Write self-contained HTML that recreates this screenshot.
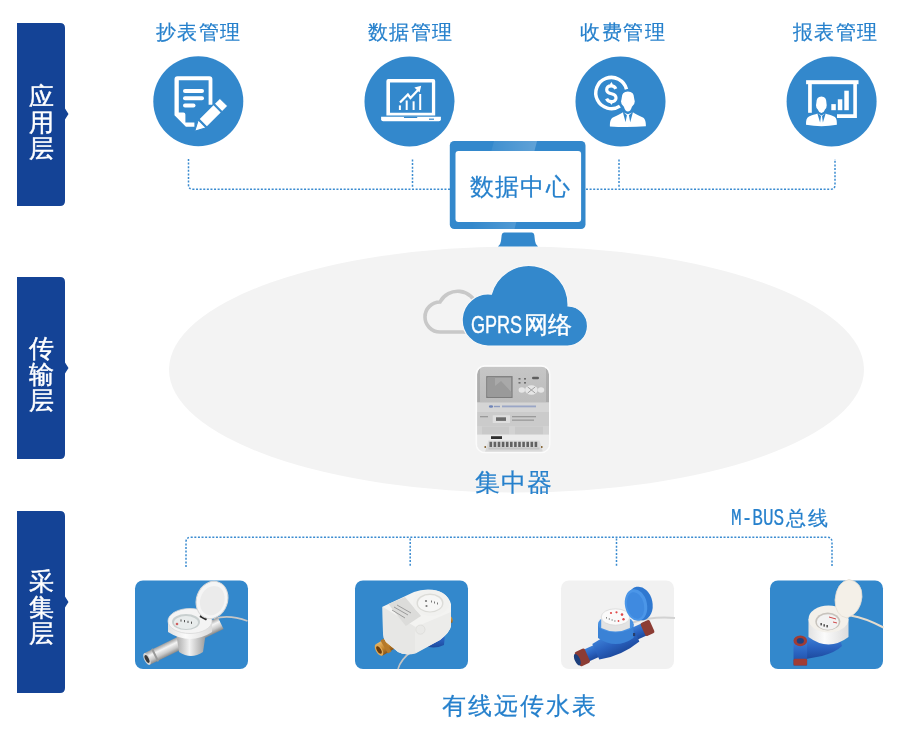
<!DOCTYPE html>
<html><head><meta charset="utf-8">
<style>
html,body{margin:0;padding:0;background:#fff;}
body{width:900px;height:738px;position:relative;overflow:hidden;font-family:"Liberation Sans",sans-serif;}
svg{position:absolute;left:0;top:0;}
.t,.lay{will-change:transform;}
.t{position:absolute;white-space:nowrap;color:#2680cc;line-height:1;-webkit-text-stroke:0.2px #2680cc;}
.lay{position:absolute;left:17px;width:48px;color:#fff;font-size:25px;line-height:26px;text-align:center;-webkit-text-stroke:0.45px #fff;}
</style></head>
<body>
<svg width="900" height="738" viewBox="0 0 900 738">
  <defs>
    <linearGradient id="gloss" x1="0" y1="0" x2="1" y2="0">
      <stop offset="0" stop-color="#ffffff" stop-opacity="0"/>
      <stop offset="0.3" stop-color="#ffffff" stop-opacity="0.05"/>
      <stop offset="0.99" stop-color="#ffffff" stop-opacity="0.22"/>
      <stop offset="1" stop-color="#ffffff" stop-opacity="0"/>
    </linearGradient>
    <linearGradient id="gloss2" x1="0" y1="0" x2="1" y2="0"><stop offset="0" stop-color="#fff" stop-opacity="0"/><stop offset="1" stop-color="#fff" stop-opacity="0.22"/></linearGradient>
  </defs>
  <!-- layer bars -->
  <g fill="#144396">
    <path d="M17 23 H60 Q65 23 65 28 V108.5 L68.5 114 L65 119.5 V201 Q65 206 60 206 H17 Z"/>
    <path d="M17 277 H60 Q65 277 65 282 V362.5 L68.5 368 L65 373.5 V454 Q65 459 60 459 H17 Z"/>
    <path d="M17 511 H60 Q65 511 65 516 V596.5 L68.5 602 L65 607.5 V688 Q65 693 60 693 H17 Z"/>
  </g>

  <!-- ellipse -->
  <ellipse cx="516.5" cy="369.5" rx="347.5" ry="123" fill="#f3f3f3"/>


  <!-- gray cloud -->
  <path d="M480 332 H440 A15 15 0 0 1 440 302 A20 20 0 0 1 477 306" fill="none" stroke="#c8c8c8" stroke-width="3.6"/>
  <!-- blue cloud -->
  <g fill="#3388cc" stroke="#f7f7f7" stroke-width="1.2">
    <path d="M488 346 A26 26 0 1 1 491.4 294.2 A39 39 0 0 1 568 306 A20 20 0 0 1 567 346 Z"/>
  </g>

  <!-- concentrator -->
  <defs>
    <linearGradient id="cg1" x1="0" y1="0" x2="0" y2="1">
      <stop offset="0" stop-color="#c6c6c6"/><stop offset="1" stop-color="#bcbcbc"/>
    </linearGradient>
    <clipPath id="cclip"><rect x="476.8" y="366.4" width="72.5" height="85.6" rx="8"/></clipPath>
  </defs>
  <g clip-path="url(#cclip)">
    <rect x="476.8" y="366.4" width="72.5" height="85.6" fill="#c4c4c4"/>
    <rect x="476.8" y="366.4" width="72.5" height="36.5" fill="url(#cg1)"/>
    <rect x="477" y="367" width="3" height="35" fill="#9a9a9a" opacity="0.5"/>
    <rect x="546" y="367" width="3" height="35" fill="#9a9a9a" opacity="0.5"/>
    <rect x="486.2" y="376.1" width="26.4" height="21.9" fill="#7c7c7c"/>
    <rect x="487.5" y="377.4" width="23.8" height="19.3" fill="#a9a9a9"/>
    <path d="M487.5 377.4 H495 V386 L501 381 L511.3 392 V396.7 H487.5 Z" fill="#9a9a9a"/>
    <rect x="532" y="376.7" width="7" height="2.6" rx="1.3" fill="#5e5e5e"/>
    <g fill="#6e6e6e"><rect x="518.5" y="378" width="2" height="1.6"/><rect x="524" y="378" width="2" height="1.6"/><rect x="518.5" y="382" width="2" height="1.6"/><rect x="524" y="382" width="2" height="1.6"/></g>
    <g fill="#e6e6e6">
      <ellipse cx="521.8" cy="390" rx="3.2" ry="2.7"/>
      <ellipse cx="541" cy="390" rx="3.2" ry="2.7"/>
      <ellipse cx="531.4" cy="390" rx="6.3" ry="4.8"/>
    </g>
    <path d="M527.5 386.8 L535.3 393.2 M535.3 386.8 L527.5 393.2" stroke="#9a9a9a" stroke-width="0.9"/>
    <rect x="476.8" y="402.5" width="72.5" height="9.5" fill="#d5d5d5"/>
    <ellipse cx="491" cy="406.5" rx="2.2" ry="1.2" fill="#6f84b8"/><rect x="494" y="405.8" width="6" height="1.4" fill="#8d9bc0"/>
    <rect x="502" y="405.5" width="34" height="1.8" fill="#9aa6c6"/>
    <rect x="476.8" y="412" width="72.5" height="14" fill="#cbcbcb"/>
    <rect x="492.7" y="415.3" width="17.3" height="7.7" fill="#dedede"/>
    <rect x="496" y="417.3" width="10" height="3.6" fill="#6a6a6a"/>
    <rect x="512" y="416" width="24" height="1.3" fill="#9a9a9a"/>
    <rect x="512" y="419.5" width="22" height="1.3" fill="#9a9a9a"/>
    <rect x="480" y="416" width="8" height="1.3" fill="#9a9a9a"/>
    <rect x="476.8" y="426" width="72.5" height="9" fill="#d2d2d2"/>
    <rect x="482" y="426.5" width="27" height="8" fill="#c9c9c9"/>
    <rect x="515" y="426.5" width="28" height="8" fill="#c9c9c9"/>
    <rect x="476.8" y="434.6" width="72.5" height="17.4" fill="#ebebeb"/>
    <rect x="491" y="436.2" width="11" height="2.8" fill="#2e2e2e"/>
    <path d="M485 452 L488.5 440.5 H539.5 L543 452 Z" fill="#d9d9d9"/>
    <rect x="488.5" y="447.5" width="51" height="2" fill="#c4c4c4"/>
    <g fill="#626262">
      <rect x="489.5" y="441.8" width="2.6" height="5.2"/><rect x="493.6" y="441.8" width="2.6" height="5.2"/><rect x="497.7" y="441.8" width="2.6" height="5.2"/><rect x="501.8" y="441.8" width="2.6" height="5.2"/><rect x="505.9" y="441.8" width="2.6" height="5.2"/><rect x="510" y="441.8" width="2.6" height="5.2"/><rect x="514.1" y="441.8" width="2.6" height="5.2"/><rect x="518.2" y="441.8" width="2.6" height="5.2"/><rect x="522.3" y="441.8" width="2.6" height="5.2"/><rect x="526.4" y="441.8" width="2.6" height="5.2"/><rect x="530.5" y="441.8" width="2.6" height="5.2"/><rect x="534.6" y="441.8" width="2.6" height="5.2"/>
    </g>
    <rect x="484.5" y="446" width="1.5" height="2" fill="#8a6a3a"/><rect x="541" y="446" width="1.5" height="2" fill="#8a6a3a"/>
  </g>
  </g>
  <rect x="476.3" y="365.9" width="73.5" height="86.6" rx="8.5" fill="none" stroke="#fbfbfb" stroke-width="1.6"/>
  <!-- top dotted connectors -->
  <g fill="none" stroke="#3a8bd0" stroke-width="1.5" stroke-dasharray="2 1.6">
    <path d="M188.5 159 V185 Q188.5 189.3 193 189.3 H450"/>
    <path d="M586 189.3 H830.5 Q835 189.3 835 185 V159"/>
    <path d="M412.5 159.5 V188"/>
    <path d="M619 159.5 V188"/>
  </g>
  <!-- bottom dotted connectors -->
  <g fill="none" stroke="#3a8bd0" stroke-width="1.5" stroke-dasharray="2 1.6">
    <path d="M186 567 V542 Q186 537.3 191 537.3 H827 Q832 537.3 832 542 V567"/>
    <path d="M410.2 538.5 V567"/>
    <path d="M616.5 538.5 V567"/>
  </g>


  <!-- tiles -->
  <defs>
    <linearGradient id="chrome" x1="0" y1="0" x2="0" y2="1">
      <stop offset="0" stop-color="#9c9c9c"/><stop offset="0.35" stop-color="#f4f4f4"/><stop offset="0.7" stop-color="#c9c9c9"/><stop offset="1" stop-color="#8a8a8a"/>
    </linearGradient>
    <linearGradient id="chromeh" x1="0" y1="0" x2="1" y2="0"><stop offset="0" stop-color="#a8a8a8"/><stop offset="0.45" stop-color="#f2f2f2"/><stop offset="1" stop-color="#9a9a9a"/></linearGradient>
    <linearGradient id="whiteb" x1="0" y1="0" x2="1" y2="0">
      <stop offset="0" stop-color="#e2e2e2"/><stop offset="0.4" stop-color="#fbfbfb"/><stop offset="1" stop-color="#dcdcdc"/>
    </linearGradient>
    <linearGradient id="blueb" x1="0" y1="0" x2="0" y2="1">
      <stop offset="0" stop-color="#3c7fd6"/><stop offset="0.5" stop-color="#2a62bf"/><stop offset="1" stop-color="#1d4a9e"/>
    </linearGradient>
    <linearGradient id="brass" x1="0" y1="0" x2="0" y2="1">
      <stop offset="0" stop-color="#e8b868"/><stop offset="0.5" stop-color="#c98a30"/><stop offset="1" stop-color="#8a5518"/>
    </linearGradient>
  </defs>
  <rect x="135" y="580.5" width="113" height="88.5" rx="8" fill="#3388cc"/>
  <rect x="355" y="580.5" width="113" height="88.5" rx="8" fill="#3388cc"/>
  <rect x="561" y="580.5" width="113" height="88.5" rx="8" fill="#f1f1f1"/>
  <rect x="770" y="580.5" width="113" height="88.5" rx="8" fill="#3388cc"/>

  <!-- meter 1 -->
  <g>
    <path d="M214 619 Q228 614 247.5 621" fill="none" stroke="#c6c6c6" stroke-width="1.8"/>
    <g transform="translate(147 659) rotate(-26)">
      <rect x="0" y="-6.5" width="82" height="13" fill="url(#chrome)"/>
      <rect x="8" y="-7" width="2" height="14" fill="#9a9a9a"/>
      <ellipse cx="0" cy="0" rx="2.8" ry="6.5" fill="#d4d4d4"/>
      <ellipse cx="0" cy="0" rx="1.8" ry="4.3" fill="#3a3a3a"/>
    </g>
    <path d="M176 632 L179 652 Q191 660 203 652 L206 632 Z" fill="url(#chromeh)"/>
    <path d="M168 621 V632 Q190 646 212 632 V621 Z" fill="url(#whiteb)"/>
    <ellipse cx="190" cy="621" rx="22" ry="12.5" fill="#f4f4f4" stroke="#d9d9d9" stroke-width="0.8"/>
    <ellipse cx="186" cy="622" rx="14" ry="8" fill="#c8cfcf"/>
    <ellipse cx="186" cy="622.5" rx="12" ry="6.5" fill="#e8ecec"/>
    <g fill="#555"><rect x="184" y="620" width="1" height="2.2"/><rect x="187.5" y="620.8" width="1" height="2.2"/><rect x="191" y="621.6" width="1" height="2.2"/><rect x="180.5" y="619.4" width="1" height="2.2"/></g>
    <circle cx="177" cy="624" r="1.3" fill="#d06060"/>
    <path d="M202 612 L209 616 L206 620.5 L199.5 617 Z" fill="#2a2a2a"/>
    <ellipse cx="212" cy="600" rx="15.5" ry="19" transform="rotate(20 212 600)" fill="#f5f5f5" stroke="#d8d8d8" stroke-width="1"/>
    <ellipse cx="212.5" cy="600.5" rx="12" ry="15" transform="rotate(20 212 600)" fill="#ebebeb"/>
  </g>

  <!-- meter 2 -->
  <g>
    <path d="M398 669 Q401 659 411 652" fill="none" stroke="#c4c4c4" stroke-width="1.6"/>
    <path d="M424 634 Q434 629 445 634 L444 645 Q433 650 424 645 Z" fill="url(#blueb)"/>
    <path d="M447.5 614 Q454 617 452.5 622.5 L447.5 624 Z" fill="url(#brass)"/>
    <g transform="translate(379 650) rotate(-30)">
      <rect x="0" y="-6.5" width="20" height="13" fill="url(#brass)"/>
      <rect x="6" y="-7.5" width="4" height="15" fill="#b57a2a"/>
      <ellipse cx="0" cy="0" rx="3.2" ry="6.5" fill="#e0aa58"/>
      <ellipse cx="0" cy="0" rx="2" ry="4.2" fill="#6a3c0c"/>
    </g>
    <path d="M382.5 606.8 L414 592 Q420 589.5 428 589.5 Q447 590 451 604 L451 626 Q450 632 440 640 L415 653 Q405 656 398 652 L386 642 Q383 638 383 633 Z" fill="#f3f3f1"/>
    <path d="M382.5 606.8 L415.5 626.9 V653.5 Q405 656 398 652 L386 642 Q383 638 383 633 Z" fill="#e7e7e5"/>
    <path d="M415.5 626.9 L451 612 V626 Q450 632 440 640 L415.5 653.5 Z" fill="#ececea"/>
    <path d="M388.4 604 L405 597 L421 616 L405.8 626 Z" fill="#dcdcda"/>
    <g stroke="#8a8a8a" stroke-width="0.8"><path d="M394 607 L408 615"/><path d="M397 605 L411 613"/><path d="M392 610 L405 618"/></g>
    <ellipse cx="431" cy="603" rx="18" ry="13" fill="#f1f1ef"/>
    <ellipse cx="430" cy="603" rx="13.5" ry="9.5" fill="#dcdcd8"/>
    <ellipse cx="430" cy="603.3" rx="12" ry="8.2" fill="#f6f6f5"/>
    <g fill="#777"><circle cx="426" cy="601" r="1.1"/><circle cx="426.5" cy="606" r="1.1"/><rect x="431" y="600.5" width="1" height="2"/><rect x="434" y="601.5" width="1" height="2"/><rect x="437" y="602.5" width="1" height="2"/></g>
    <circle cx="420.4" cy="629.6" r="4.6" fill="#e9e9e7" stroke="#d6d6d4" stroke-width="0.6"/>
  </g>
  <!-- meter 3 -->
  <g>
    <path d="M633 622.5 Q652 616 675 618" fill="none" stroke="#d2d2d2" stroke-width="2"/>
    <g transform="translate(581 658) rotate(-24.3)">
      <path d="M2 -6.5 H74 V6.5 H2 Z" fill="url(#blueb)"/>
      <path d="M16 -8 Q38 -12 60 -8 L60 9 Q38 15 16 9 Z" fill="url(#blueb)"/>
      <rect x="-4" y="-7.8" width="11" height="15.6" rx="2" fill="#8c3c34"/>
      <rect x="68" y="-7.2" width="10" height="14.4" rx="2" fill="#8c3c34"/>
      <ellipse cx="-4" cy="0" rx="2.6" ry="6.2" fill="#1d3f7c"/>
    </g>
    <path d="M598 624 V638 Q615.8 650 633.6 638 V624 Z" fill="#3a82d6"/>
    <ellipse cx="615.8" cy="624" rx="17.8" ry="8.5" fill="#4a92e2"/>
    <path d="M601.2 617 V628 Q615.5 635 629.9 628 V617 Z" fill="#e3e3e3"/>
    <ellipse cx="615.5" cy="617" rx="14.3" ry="8.2" fill="#fafafa" stroke="#d4d4d4" stroke-width="0.7"/>
    <g fill="#e04848"><circle cx="611" cy="613" r="1.1"/><circle cx="616.5" cy="612.3" r="1.1"/><circle cx="622" cy="614.6" r="1.3"/><circle cx="623.5" cy="619.2" r="1.2"/><circle cx="618.5" cy="621" r="0.9"/></g>
    <g fill="#8a8a8a"><rect x="606" y="617" width="1" height="1.6"/><rect x="608.8" y="618.2" width="1" height="1.6"/><rect x="611.6" y="619.2" width="1" height="1.6"/><rect x="614.4" y="620.2" width="1" height="1.6"/></g>
    <rect x="633" y="633" width="2.2" height="3" fill="#2a3f6a"/>
    <ellipse cx="640" cy="603.5" rx="12.5" ry="17" transform="rotate(-12 640 603.5)" fill="#2f78d0"/>
    <ellipse cx="636" cy="605" rx="11" ry="16" transform="rotate(-12 636 605)" fill="#4b96e8"/>
    <ellipse cx="635.5" cy="605.5" rx="8.5" ry="13.5" transform="rotate(-12 635.5 605.5)" fill="#3f8ae0"/>
  </g>

  <!-- meter 4 -->
  <g>
    <path d="M850.5 615.4 Q866 618 883.5 627.5" fill="none" stroke="#e6dccd" stroke-width="2"/>
    <path d="M806 637 L830 637 Q842 638 842 646 Q836 652 822 656 L806 659 Z" fill="url(#blueb)"/>
    <rect x="793.5" y="640.8" width="13.6" height="24.7" fill="url(#blueb)"/>
    <rect x="793.5" y="658.7" width="13.6" height="6.8" rx="1.5" fill="#a03c34"/>
    <ellipse cx="800.3" cy="640.8" rx="6.8" ry="5.4" fill="#a03c34"/>
    <ellipse cx="800.3" cy="640.8" rx="3.6" ry="2.9" fill="#1f3f7e"/>
    <path d="M808.5 619 V637 Q828.5 652 848.5 637 V619 Z" fill="url(#whiteb)"/>
    <ellipse cx="828.5" cy="619" rx="20" ry="13.5" fill="#f3f0ea"/>
    <ellipse cx="827.8" cy="621.5" rx="12.5" ry="9" fill="#c7c3bd"/>
    <ellipse cx="827.8" cy="622" rx="11" ry="7.8" fill="#f2f2f2"/>
    <g fill="#333"><rect x="820.5" y="623" width="1.3" height="2.4"/><rect x="823.5" y="624.2" width="1.3" height="2.4"/><rect x="826.5" y="625" width="1.3" height="2.4"/></g>
    <path d="M829 617 L836 619 M833 622 L837 623" stroke="#d04848" stroke-width="1"/>
    <path d="M849 579.5 Q862.5 582 862 597 Q860.5 613 847 618 Q835 616 835 600 Q836.5 582 849 579.5 Z" fill="#f4f0e8" stroke="#e2dcd2" stroke-width="0.8"/>
  </g>

  <!-- circles -->
  <g fill="#3388cc">
    <circle cx="198.3" cy="101.3" r="45"/>
    <circle cx="409.5" cy="101.5" r="45"/>
    <circle cx="620.5" cy="101.5" r="45"/>
    <circle cx="831.6" cy="101.5" r="45"/>
  </g>

  <!-- icon 1: document + pencil -->
  <g fill="#fff">
    <path d="M177.5 76.2 H209.4 Q212.4 76.2 212.4 79.2 V104.8 H208.6 V80.2 H178.8 V112.4 H183.4 Q185.4 112.4 185.4 114.4 V122.4 H194.4 V126.7 H185.9 L174.5 115.3 V79.2 Q174.5 76.2 177.5 76.2 Z"/>
    <rect x="183" y="89.1" width="21" height="4" rx="2"/>
    <rect x="183" y="96.2" width="21" height="4" rx="2"/>
    <rect x="183" y="103.6" width="12.5" height="4" rx="2"/>
  </g>
  <g transform="translate(195 131) rotate(-45)">
    <path d="M-0.5 0 L10.2 -5.6 V5.6 Z" fill="#fff" stroke="#3388cc" stroke-width="1.1" stroke-linejoin="round"/>
    <rect x="11.2" y="-5.6" width="20.6" height="11.2" fill="#fff" stroke="#3388cc" stroke-width="1.1"/>
    <rect x="32.8" y="-5.6" width="8" height="11.2" fill="#fff" stroke="#3388cc" stroke-width="1.1"/>
  </g>

  <!-- icon 2: laptop -->
  <g fill="#fff">
    <path fill-rule="evenodd" d="M388.4 78.9 H433.2 Q435.2 78.9 435.2 80.9 V115.5 H386.4 V80.9 Q386.4 78.9 388.4 78.9 Z M390 82.6 V112.7 H431.9 V82.6 Z"/>
    <path d="M381.1 116.7 H440.9 V119.2 Q440.9 121.2 438.9 121.2 H383.1 Q381.1 121.2 381.1 119.2 Z"/>
    <rect x="398.9" y="105.4" width="2" height="4.6"/>
    <rect x="405.7" y="100.5" width="2" height="9.5"/>
    <rect x="412.6" y="101.3" width="2" height="8.7"/>
    <rect x="419.2" y="94" width="2" height="16"/>
    <path d="M400 102.5 L407.9 94.5 L410.5 98 L418 90" fill="none" stroke="#fff" stroke-width="2.3"/>
    <path d="M421.2 85.8 L414.4 87.4 L419.6 92.6 Z"/>
  </g>
  <g fill="#3388cc">
    <rect x="403.9" y="116.7" width="13.4" height="1.4" rx="0.7"/>
    <rect x="429" y="118.6" width="5" height="1.2"/>
  </g>

  <!-- icon 3: coin + person -->
  <g>
    <path d="M626.5 89.25 A15.6 15.6 0 1 0 619.9 106.1" fill="none" stroke="#fff" stroke-width="3.5"/>
    <path d="M615.8 88.8 C615 86.8 613.4 85.8 611.3 85.8 C608.6 85.8 606.7 87.3 606.7 89.8 C606.7 92.4 609 93.2 611.4 93.8 C614 94.4 616 95.4 616 98 C616 100.3 614 101.7 611.3 101.7 C609 101.7 607.4 100.7 606.6 98.6" fill="none" stroke="#fff" stroke-width="3.2"/>
    <path d="M611.4 81.7 L612.6 84.5 H610.2 Z M611.4 104.9 L612.6 102.5 H610.2 Z" fill="#fff"/>
    <rect x="610.3" y="83.5" width="2.2" height="2.5" fill="#fff"/><rect x="610.3" y="101" width="2.2" height="2.5" fill="#fff"/>
    <path d="M627.9 90.8 C633 90.8 635 94.3 635 98.6 L635.6 101.2 C635.6 104 634.3 106 632.6 107.2 C631.6 110.6 630 112.4 627.9 112.4 C625.8 112.4 624.2 110.6 623.2 107.2 C621.5 106 620.2 104 620.2 101.2 L620.8 98.6 C620.8 94.3 622.8 90.8 627.9 90.8 Z" fill="#fff" stroke="#3388cc" stroke-width="1.6"/>
    <path d="M609.9 126.5 C609.9 121.5 610.6 118.8 613.4 117.3 C617 115.6 620.5 114 623 112.3 L627.9 114.3 L632.8 112.3 C635.3 114 638.8 115.6 642.4 117.3 C645.2 118.8 645.9 121.5 645.9 126.3 Q627.9 127.6 609.9 126.5 Z" fill="#fff"/>
    <path d="M622.6 111.2 L625.6 122.3 L626.9 115.2 Z M633.2 111.2 L630.2 122.3 L628.9 115.2 Z" fill="#3388cc"/>
  </g>

  <!-- icon 4: presentation -->
  <g fill="#fff">
    <rect x="806.1" y="80.2" width="52.4" height="4"/>
        <path d="M853.3 84 H856.9 V118 H837 V114.3 H853.3 Z"/>
    <rect x="831.3" y="104.1" width="4.5" height="6.1"/>
    <rect x="837.8" y="99.3" width="4.5" height="10.9"/>
    <rect x="844.3" y="90.7" width="4.5" height="19.5"/>
    <path d="M808.1 84 H811.8 V112.8 H808.1 Z" fill="#fff"/>
  <path d="M821.4 95.7 C825.8 95.7 827.2 99 827.2 102.6 L827.5 105.2 C827.5 107.3 826.6 109.2 825.5 110.2 C824.6 112.6 823.3 113.9 821.4 113.9 C819.5 113.9 818.2 112.6 817.3 110.2 C816.2 109.2 815.2 107.3 815.2 105.2 L815.6 102.6 C815.6 99 817 95.7 821.4 95.7 Z" fill="#fff" stroke="#3388cc" stroke-width="1.6"/>
  <path d="M806 124.7 C806 120.5 806.4 117.8 809 116.5 C812 115.2 815 114.6 817.6 113.6 L821.5 115.5 L825.4 113.6 C828 114.6 831 115.2 834 116.5 C836.6 117.8 836.9 120.5 836.9 124.7 Q821.5 127.6 806 124.7 Z" fill="#fff"/>
  <path d="M817.1 112.8 L820.1 122.5 L821 116 Z M825.9 112.8 L822.9 122.5 L822 116 Z" fill="#3388cc"/>
  </g>

  <!-- monitor -->
  <path d="M504 232.5 H532 Q534 232.5 534.3 235 L535 241 Q535.5 245 538 246.5 H498 Q500.5 245 501 241 L501.7 235 Q502 232.5 504 232.5 Z" fill="#3388cc"/>
  <rect x="449.8" y="140.9" width="135.7" height="88.2" rx="4.5" fill="#3388cc"/>
  <path d="M494 140.9 H537 L514.5 229.1 H471.5 Z" fill="url(#gloss2)"/>
  <rect x="455.5" y="150.9" width="125.6" height="71.1" rx="3" fill="#fff"/>

</svg>

<!-- layer labels -->
<div class="lay" style="top:83px">应<br>用<br>层</div>
<div class="lay" style="top:335px">传<br>输<br>层</div>
<div class="lay" style="top:568px">采<br>集<br>层</div>

<div class="t" style="left:155.6px;top:23px;font-size:19.8px;letter-spacing:1.3px;-webkit-text-stroke:0.2px #2680cc">抄表管理</div>
<div class="t" style="left:367.8px;top:23px;font-size:19.8px;letter-spacing:1.3px;-webkit-text-stroke:0.2px #2680cc">数据管理</div>
<div class="t" style="left:579.8px;top:23px;font-size:19.8px;letter-spacing:1.5px;-webkit-text-stroke:0.2px #2680cc">收费管理</div>
<div class="t" style="left:793px;top:23px;font-size:19.8px;letter-spacing:1.3px;-webkit-text-stroke:0.2px #2680cc">报表管理</div>
<div class="t" style="left:470px;top:174.5px;font-size:24px;letter-spacing:1.2px">数据中心</div>
<div class="t" style="left:475px;top:471px;font-size:24.5px;letter-spacing:1px">集中器</div>
<div class="t" style="left:442px;top:694px;font-size:24px;letter-spacing:2px">有线远传水表</div>
<div class="t" style="left:471px;top:312.5px;color:#fff;-webkit-text-stroke:0.4px #fff;font-size:23.5px"><span style="display:inline-block;transform:scaleX(0.74);transform-origin:0 50%;width:52.5px;font-size:24.4px;position:relative;top:0px">GPRS</span>网络</div>
<div class="t" style="left:731px;top:507.5px;font-size:19.5px;letter-spacing:2px"><span style="display:inline-block;font-family:'Liberation Mono',monospace;transform:scaleX(0.77);transform-origin:0 50%;width:55px;font-size:23px;letter-spacing:0">M-BUS</span>总线</div>
</body></html>
